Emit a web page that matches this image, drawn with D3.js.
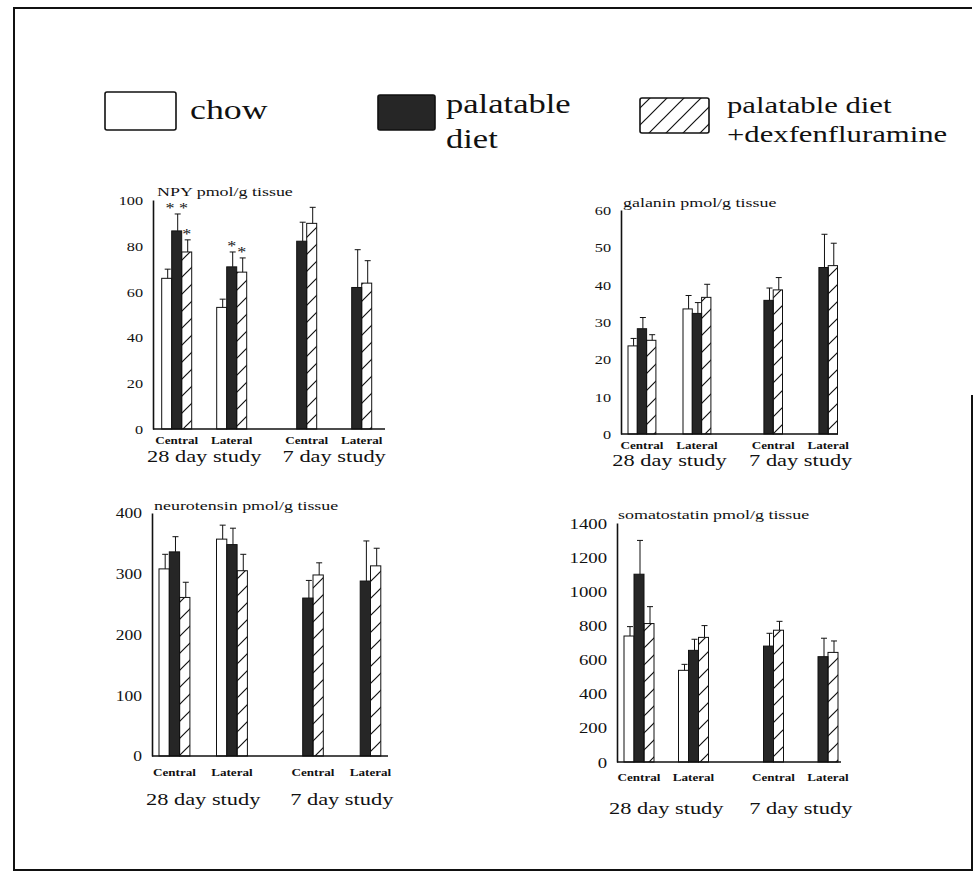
<!DOCTYPE html>
<html>
<head>
<meta charset="utf-8">
<script src="https://cdn.jsdelivr.net/npm/d3@7"></script>
<style>
  body { margin: 0; background: #fff; }
  text { font-family: "Liberation Serif", "DejaVu Serif", "Times New Roman", serif; fill: #111; }
</style>
</head>
<body>
<svg id="chart" width="975" height="874"></svg>
<script>
// categories
const studies = ["28 day study", "7 day study"];
const regions = ["Central", "Lateral"];
const seriesKeys = ["chow", "palatable", "dex"];
const legendLines = [["chow"], ["palatable", "diet"], ["palatable diet", "+dexfenfluramine"]];

// rows: 28d Central, 28d Lateral, 7d Central, 7d Lateral
// cols: chow, palatable diet, palatable diet + dexfenfluramine (null = not measured)
const npyMean = [[65.8, 86.5, 77.3], [53.1, 70.8, 68.5], [null, 82.0, 89.8], [null, 61.8, 63.7]];
const npySem  = [[4.0, 7.4, 5.3], [3.6, 6.5, 6.2], [null, 8.3, 7.0], [null, 16.5, 9.8]];

const galMean = [[23.6, 28.2, 25.1], [33.5, 32.3, 36.6], [null, 35.8, 38.6], [null, 44.6, 45.1]];
const galSem  = [[2.0, 3.0, 1.5], [3.6, 2.9, 3.5], [null, 3.3, 3.3], [null, 8.9, 6.0]];

const ntMean = [[308, 336, 261], [357, 348, 305], [null, 260, 298], [null, 288, 313]];
const ntSem  = [[24, 25, 25], [23, 27, 27], [null, 29, 20], [null, 66, 29]];

const ssMean = [[738, 1100, 811], [537, 654, 730], [null, 679, 772], [null, 617, 642]];
const ssSem  = [[55, 198, 99], [35, 65, 69], [null, 75, 52], [null, 108, 67]];

// significance marks (row, col)
const npyStars = [
  {row: 0, col: 1, mark: "* *"},
  {row: 0, col: 2, mark: "*"},
  {row: 1, col: 1, mark: "*"},
  {row: 1, col: 2, mark: "*"}
];

const svg = d3.select("#chart");

function txt(g, x, y, s, size, sx, anchor, weight) {
  return g.append("text")
    .attr("transform", `translate(${x},${y}) scale(${sx},1)`)
    .attr("text-anchor", anchor || "start")
    .style("font-size", size + "px")
    .style("font-weight", weight || "normal")
    .text(s);
}

// hatch pattern for the dexfenfluramine bars
svg.append("defs").append("pattern")
  .attr("id", "hatch")
  .attr("patternUnits", "userSpaceOnUse")
  .attr("width", 17).attr("height", 17)
  .append("path")
  .attr("d", "M-2,2 L2,-2 M0,17 L17,0 M15,19 L19,15")
  .attr("stroke", "#111").attr("stroke-width", 1.2);

const fills = {chow: "#fff", palatable: "#262626", dex: "url(#hatch)"};

svg.append("rect").attr("width", 975).attr("height", 874).attr("fill", "#fff").lower();

// page frame
svg.append("path")
  .attr("d", "M972,395 V870 H14 V8 H972")
  .attr("fill", "none").attr("stroke", "#111").attr("stroke-width", 2);

// legend
const legend = svg.append("g");
const legendBoxes = [{x: 105, y: 92, w: 71, h: 38}, {x: 378, y: 95, w: 57, h: 35}, {x: 640, y: 98, w: 69, h: 35}];
const legendText = [{x: 190, y: 119, size: 28, gap: 0}, {x: 446, y: 113, size: 27, gap: 35}, {x: 727, y: 113, size: 24, gap: 29}];
seriesKeys.forEach((k, i) => {
  const b = legendBoxes[i];
  legend.append("rect")
    .attr("x", b.x).attr("y", b.y).attr("width", b.w).attr("height", b.h)
    .attr("rx", 2)
    .attr("fill", fills[k])
    .attr("stroke", "#111").attr("stroke-width", 1.6);
  const t = legendText[i];
  legendLines[i].forEach((line, j) => txt(legend, t.x, t.y + j * t.gap, line, t.size, 1.28));
});

const panels = [
  {title: "NPY pmol/g tissue", mean: npyMean, sem: npySem, stars: npyStars, max: 100, step: 20,
   left: 153, top: 200, bottom: 429, right: 385, x0: 161.7, regionStep: 55, studyGap: 40, barW: 10,
   tickSize: 13, titleX: 157, titleY: 196, groupDy: 15, studyDy: 33},
  {title: "galanin pmol/g tissue", mean: galMean, sem: galSem, stars: [], max: 60, step: 10,
   left: 621, top: 210, bottom: 434, right: 838, x0: 628, regionStep: 55, studyGap: 43.7, barW: 9.3,
   tickSize: 13, titleX: 623, titleY: 207, groupDy: 15, studyDy: 32},
  {title: "neurotensin pmol/g tissue", mean: ntMean, sem: ntSem, stars: [], max: 400, step: 100,
   left: 152, top: 513, bottom: 756, right: 388, x0: 159, regionStep: 57.5, studyGap: 45, barW: 10.3,
   tickSize: 14, titleX: 154, titleY: 510, groupDy: 20, studyDy: 49},
  {title: "somatostatin pmol/g tissue", mean: ssMean, sem: ssSem, stars: [], max: 1400, step: 200,
   left: 617, top: 523, bottom: 762, right: 841, x0: 624, regionStep: 54.5, studyGap: 45, barW: 10,
   tickSize: 15, titleX: 618, titleY: 519, groupDy: 19, studyDy: 52}
];

function drawPanel(p) {
  const g = svg.append("g");
  const y = d3.scaleLinear().domain([0, p.max]).range([p.bottom, p.top]);

  const bw = p.barW * seriesKeys.length;
  const studySpan = p.regionStep + bw;
  const xStudy = d3.scaleBand().domain(studies)
    .range([p.x0, p.x0 + 2 * studySpan + p.studyGap])
    .paddingInner(p.studyGap / (studySpan + p.studyGap));
  const xRegion = d3.scaleBand().domain(regions)
    .range([0, studySpan])
    .paddingInner((p.regionStep - bw) / p.regionStep);
  const xSeries = d3.scaleBand().domain(seriesKeys).range([0, bw]);

  const groups = d3.cross(studies, regions);
  const cells = [];
  groups.forEach(([s, r], gi) => {
    seriesKeys.forEach((k, si) => {
      const v = p.mean[gi][si];
      if (v == null) return;
      cells.push({study: s, region: r, key: k, row: gi, col: si, value: v, sem: p.sem[gi][si],
                  x: xStudy(s) + xRegion(r) + xSeries(k)});
    });
  });

  // y axis
  const yAxis = d3.axisLeft(y)
    .tickValues(d3.range(0, p.max + 1, p.step))
    .tickFormat(d3.format("d"))
    .tickSize(0).tickSizeOuter(0).tickPadding(8);
  g.append("g")
    .attr("transform", `translate(${p.left},0)`)
    .call(yAxis)
    .call(a => a.select(".domain").attr("stroke", "#111").attr("stroke-width", 1.6))
    .call(a => a.selectAll("text")
      .attr("transform", "scale(1.25,1)")
      .attr("dy", "0.34em")
      .style("font-size", p.tickSize + "px"));

  // bars
  g.selectAll("rect.bar").data(cells).join("rect")
    .attr("class", "bar")
    .attr("x", d => d.x)
    .attr("y", d => y(d.value))
    .attr("width", p.barW)
    .attr("height", d => y(0) - y(d.value))
    .attr("fill", d => fills[d.key])
    .attr("stroke", "#111").attr("stroke-width", 1);

  // error bars
  const err = g.selectAll("g.err").data(cells).join("g").attr("class", "err")
    .attr("stroke", "#111").attr("stroke-width", 1);
  err.append("line")
    .attr("x1", d => d.x + p.barW * 0.6).attr("x2", d => d.x + p.barW * 0.6)
    .attr("y1", d => y(d.value)).attr("y2", d => y(d.value + d.sem));
  err.append("line")
    .attr("x1", d => d.x + p.barW * 0.6 - 3).attr("x2", d => d.x + p.barW * 0.6 + 3)
    .attr("y1", d => y(d.value + d.sem)).attr("y2", d => y(d.value + d.sem));

  // baseline
  g.append("line")
    .attr("x1", p.left).attr("x2", p.right)
    .attr("y1", y(0)).attr("y2", y(0))
    .attr("stroke", "#111").attr("stroke-width", 1.6);

  // significance marks
  p.stars.forEach(s => {
    const c = cells.find(d => d.row === s.row && d.col === s.col);
    txt(g, c.x + p.barW / 2, y(c.value + c.sem) - 1, s.mark, 15, 1.2, "middle");
  });

  // group + study labels
  groups.forEach(([s, r]) => {
    const cs = cells.filter(d => d.study === s && d.region === r);
    const cx = (d3.min(cs, d => d.x) + d3.max(cs, d => d.x) + p.barW) / 2;
    txt(g, cx, y(0) + p.groupDy, r, 10.5, 1.25, "middle", "bold");
  });
  studies.forEach(s => {
    const cs = cells.filter(d => d.study === s);
    const cx = (d3.min(cs, d => d.x) + d3.max(cs, d => d.x) + p.barW) / 2;
    txt(g, cx, y(0) + p.studyDy, s, 16, 1.4, "middle");
  });

  // panel title
  txt(g, p.titleX, p.titleY, p.title, 13, 1.38);
}

panels.forEach(drawPanel);
</script>
</body>
</html>
